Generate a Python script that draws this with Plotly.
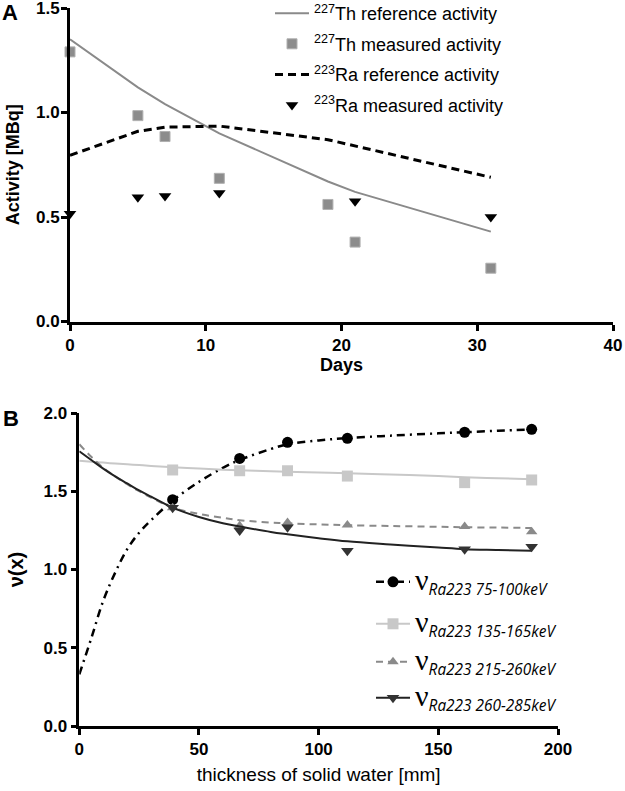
import plotly.graph_objects as go

# ---------------- Panel A data ----------------
days_ref = [0, 5, 7, 11, 19, 21, 31]
th_ref = [1.35, 1.12, 1.04, 0.90, 0.67, 0.62, 0.43]
ra_ref = [0.795, 0.91, 0.93, 0.935, 0.87, 0.84, 0.69]
days_th_meas = [0, 5, 7, 11, 19, 21, 31]
th_meas = [1.29, 0.985, 0.885, 0.685, 0.56, 0.38, 0.255]
days_ra_meas = [0, 5, 7, 11, 21, 31]
ra_meas = [0.515, 0.595, 0.60, 0.615, 0.575, 0.50]

# ---------------- Panel B data ----------------
thick = [39, 67, 87, 112, 161, 189]
v75 = [1.446, 1.71, 1.813, 1.838, 1.877, 1.896]
v135 = [1.636, 1.631, 1.631, 1.597, 1.555, 1.572]
v215 = [1.395, 1.28, 1.30, 1.284, 1.274, 1.241]
v260 = [1.395, 1.25, 1.27, 1.12, 1.129, 1.146]

fit_x = [0, 5, 10, 15, 20, 25, 30, 39, 50, 60, 67, 80, 87, 100, 112, 130, 150, 161, 175, 189]
fit75 = [0.33, 0.56, 0.80, 0.98, 1.13, 1.235, 1.315, 1.44, 1.56, 1.65, 1.70, 1.77, 1.80, 1.825, 1.84, 1.855, 1.87, 1.877, 1.887, 1.895]
fit135 = [1.695, 1.689, 1.683, 1.677, 1.672, 1.667, 1.662, 1.653, 1.645, 1.638, 1.634, 1.628, 1.625, 1.62, 1.615, 1.607, 1.597, 1.59, 1.583, 1.577]
fit215 = [1.80, 1.72, 1.65, 1.595, 1.545, 1.50, 1.46, 1.395, 1.355, 1.33, 1.315, 1.30, 1.295, 1.288, 1.283, 1.278, 1.273, 1.27, 1.268, 1.265]
fit260 = [1.755, 1.70, 1.645, 1.595, 1.55, 1.505, 1.465, 1.395, 1.335, 1.295, 1.275, 1.24, 1.225, 1.20, 1.18, 1.16, 1.14, 1.13, 1.125, 1.12]

labels_b = ["75-100keV", "135-165keV", "215-260keV", "260-285keV"]

W, H = 625, 791
SANS = "Liberation Sans, Arial, sans-serif"

fig = go.Figure()

# Panel A traces
fig.add_trace(go.Scatter(x=days_ref, y=th_ref, mode="lines", name="<sup>227</sup>Th reference activity",
                         line=dict(color="#8a8a8a", width=2), legendgroup="a1", xaxis="x", yaxis="y",
                         cliponaxis=False))
fig.add_trace(go.Scatter(x=days_th_meas, y=th_meas, mode="markers", name="<sup>227</sup>Th measured activity",
                         marker=dict(symbol="square", size=10, color="#8c8c8c", line=dict(color="#b0b0b0", width=1)),
                         legendgroup="a2", xaxis="x", yaxis="y", cliponaxis=False))
fig.add_trace(go.Scatter(x=days_ref, y=ra_ref, mode="lines", name="<sup>223</sup>Ra reference activity",
                         line=dict(color="black", width=3, dash="8px,5px"), legendgroup="a3", xaxis="x", yaxis="y",
                         cliponaxis=False))
fig.add_trace(go.Scatter(x=days_ra_meas, y=ra_meas, mode="markers", name="<sup>223</sup>Ra measured activity",
                         marker=dict(symbol="triangle-down", size=11, color="black"),
                         legendgroup="a4", xaxis="x", yaxis="y", cliponaxis=False))

# Panel B traces
def nu_label(t):
    return ("<span style=\"font-size:30px\">ν</span><sub><i><span style=\"font-family:Open Sans\">Ra223 "
            + t + "</span></i></sub>")

specs = [
    (fit75, v75, dict(color="black", width=2.5, dash="8px,5px,2px,5px"),
     dict(symbol="circle", size=11, color="black"), "legend2"),
    (fit135, v135, dict(color="#c8c8c8", width=2),
     dict(symbol="square", size=11, color="#c8c8c8"), "legend3"),
    (fit215, v215, dict(color="#8a8a8a", width=2, dash="7px,5px"),
     dict(symbol="triangle-up", size=10, color="#8a8a8a"), "legend4"),
    (fit260, v260, dict(color="#222222", width=2),
     dict(symbol="triangle-down", size=11, color="#333333"), "legend5"),
]
for (fy, my, ln, mk, lg), lab in zip(specs, labels_b):
    fig.add_trace(go.Scatter(x=fit_x, y=fy, mode="lines", line=dict(ln, shape="spline"),
                             showlegend=False, xaxis="x2", yaxis="y2", cliponaxis=False, legendgroup=lab))
    fig.add_trace(go.Scatter(x=thick, y=my, mode="markers", marker=mk, showlegend=False,
                             xaxis="x2", yaxis="y2", cliponaxis=False, legendgroup=lab))
    fig.add_trace(go.Scatter(x=[None], y=[None], mode="lines+markers", line=ln, marker=mk,
                             name=nu_label(lab), legend=lg, xaxis="x2", yaxis="y2", legendgroup=lab))

axis_common = dict(showline=True, linecolor="black", ticks="outside", tickcolor="black",
                   ticklen=6, showgrid=False, zeroline=False, mirror=False, automargin=False,
                   ticklabeloverflow="allow")

bold_tick = dict(family=SANS, size=17, color="black", weight="bold")

fig.update_layout(
    width=W, height=H,
    margin=dict(l=0, r=0, t=0, b=0, autoexpand=False),
    paper_bgcolor="white", plot_bgcolor="white",
    font=dict(family=SANS, color="black"),
    xaxis=dict(axis_common, domain=[70 / W, 613 / W], range=[0, 40], tickvals=[0, 10, 20, 30, 40],
               linewidth=3, tickwidth=3, tickfont=bold_tick, anchor="y",
               title=dict(text="Days", font=dict(family=SANS, size=18, weight="bold"), standoff=0)),
    yaxis=dict(axis_common, domain=[1 - 321.5 / H, 1 - 8 / H], range=[0, 1.5], tickvals=[0, 0.5, 1.0, 1.5],
               tickformat=".1f", linewidth=3, tickwidth=3, tickfont=bold_tick, anchor="x",
               ticklabelstandoff=-2,
               title=dict(text="Activity [MBq]", font=dict(family=SANS, size=18, weight="bold"), standoff=12)),
    xaxis2=dict(axis_common, domain=[79.3 / W, 558 / W], range=[0, 200], tickvals=[0, 50, 100, 150, 200],
                linewidth=2.5, tickwidth=2.5, tickfont=bold_tick, anchor="y2",
                title=dict(text="thickness of solid water [mm]", font=dict(family=SANS, size=19), standoff=10)),
    yaxis2=dict(axis_common, domain=[1 - 726 / H, 1 - 413 / H], range=[0, 2.0], tickvals=[0, 0.5, 1.0, 1.5, 2.0],
                tickformat=".1f", linewidth=2.5, tickwidth=2.5, tickfont=bold_tick, anchor="x2",
                title=dict(text="ν(x)", font=dict(family=SANS, size=20, weight="bold"), standoff=15)),
    legend=dict(x=270 / W, y=1 + 5 / H, xanchor="left", yanchor="top", bgcolor="rgba(0,0,0,0)",
                font=dict(family=SANS, size=18, color="black"), tracegroupgap=4.2, itemwidth=34),
    showlegend=True,
)

leg_rows = [582, 624, 662, 698]
for i, yy in enumerate(leg_rows):
    key = "legend%d" % (i + 2)
    fig.update_layout({key: dict(x=371 / W, y=1 - yy / H, xanchor="left", yanchor="middle",
                                 bgcolor="rgba(0,0,0,0)", itemwidth=34,
                                 font=dict(family="Liberation Serif, serif", size=22, color="black"))})

fig.add_annotation(text="<b>A</b>", x=0, y=1 + 2 / H, xref="paper", yref="paper", xanchor="left",
                   yanchor="top", showarrow=False, font=dict(family=SANS, size=22, color="black"))
fig.add_annotation(text="<b>B</b>", x=1 / W, y=1 - 404 / H, xref="paper", yref="paper", xanchor="left",
                   yanchor="top", showarrow=False, font=dict(family=SANS, size=22, color="black"))

fig.write_html("out.html", config={"displayModeBar": False},
               post_script="document.body.style.margin='0px';")
